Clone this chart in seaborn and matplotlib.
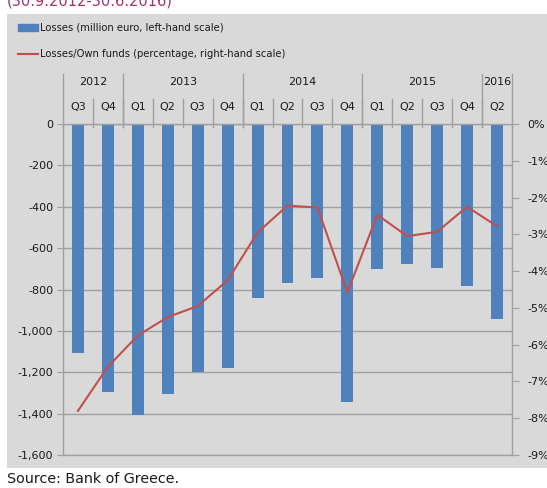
import numpy as np
import pandas as pd
import matplotlib
matplotlib.use("Agg")
import matplotlib.pyplot as plt
import matplotlib.patches as mpatches
import matplotlib.lines as mlines
from matplotlib.ticker import FuncFormatter
import seaborn as sns

# data
years = ["2012", "2012", "2013", "2013", "2013", "2013", "2014", "2014", "2014", "2014",
         "2015", "2015", "2015", "2015", "2016"]
quarters = ["Q3", "Q4", "Q1", "Q2", "Q3", "Q4", "Q1", "Q2", "Q3", "Q4",
            "Q1", "Q2", "Q3", "Q4", "Q2"]
losses = [-1105, -1295, -1405, -1305, -1200, -1180, -840, -770, -745, -1345,
          -700, -675, -695, -785, -945]
ratio = [-7.8, -6.6, -5.75, -5.25, -4.95, -4.25, -2.95, -2.22, -2.27, -4.58,
         -2.47, -3.05, -2.93, -2.25, -2.78]

BLUE = "#4f81bd"
RED = "#c0504d"
PANEL = "#d9d9d9"
GRID = "#a0a0a0"
TXT = "#1a1a1a"

df = pd.DataFrame({"year": years, "quarter": quarters, "losses": losses, "ratio": ratio})
df["pos"] = np.arange(len(df))

plt.rcParams["font.family"] = ["DejaVu Sans"]
fig = plt.figure(figsize=(5.47, 4.88), dpi=100, facecolor="white")

# grey panel behind the chart
fig.patches.append(mpatches.Rectangle((7 / 547, 20 / 488), 1 - 7 / 547, 454 / 488,
                                      transform=fig.transFigure, facecolor=PANEL,
                                      edgecolor="none", zorder=-10))

ax = fig.add_axes([63 / 547, 1 - 455 / 488, (512 - 63) / 547, (455 - 124) / 488])
ax.set_facecolor("none")
sns.barplot(data=df, x="pos", y="losses", native_scale=True, width=0.4, color=BLUE,
            saturation=1, ax=ax, zorder=2)
ax.set_xlim(-0.5, len(df) - 0.5)
ax.set_ylim(-1600, 0)
ax.set_yticks(np.arange(-1600, 1, 200))
ax.yaxis.set_major_formatter(FuncFormatter(lambda v, p: f"{int(v):,}"))
ax.yaxis.grid(True, color=GRID, linewidth=1)
ax.set_axisbelow(True)
ax.set_xlabel("")
ax.set_ylabel("")
ax.set_xticks([])
ax.tick_params(axis="y", length=4, color=GRID, labelsize=8, labelcolor=TXT, pad=3)
for s in ["left", "right", "top", "bottom"]:
    ax.spines[s].set_color(GRID)
    ax.spines[s].set_linewidth(1)

ax2 = ax.twinx()
sns.lineplot(data=df, x="pos", y="ratio", color=RED, linewidth=1.5, ax=ax2)
ax2.set_ylim(-9, 0)
ax2.set_yticks(np.arange(-9, 1, 1))
ax2.yaxis.set_major_formatter(FuncFormatter(lambda v, p: f"{int(round(v))}%"))
ax2.set_ylabel("")
ax2.set_xlabel("")
ax2.tick_params(axis="y", length=5, color=GRID, labelsize=8, labelcolor=TXT, pad=6)
for s in ["left", "right", "top", "bottom"]:
    ax2.spines[s].set_visible(False)

# category header above the plot
trans = ax.get_xaxis_transform()
q_y, yr_y = 1.051, 1.127
for i, q in enumerate(df["quarter"]):
    ax.text(i, q_y, q, transform=trans, ha="center", va="center", fontsize=8, color=TXT)
for i in range(1, len(df)):
    ax.plot([i - 0.5, i - 0.5], [0.991, 1.076], transform=trans, color=GRID,
            linewidth=1, clip_on=False)
year_list = list(dict.fromkeys(years))
bounds = [-0.5]
for yr in year_list:
    idx = [i for i, y in enumerate(years) if y == yr]
    ax.text((idx[0] + idx[-1]) / 2, yr_y, yr, transform=trans, ha="center", va="center",
            fontsize=8, color=TXT)
    bounds.append(idx[-1] + 0.5)
for b in bounds:
    ax.plot([b, b], [0.991, 1.151], transform=trans, color=GRID, linewidth=1, clip_on=False)

# legend
h_bar = mpatches.Patch(color=BLUE, label="Losses (million euro, left-hand scale)")
h_line = mlines.Line2D([], [], color=RED, linewidth=1.5,
                       label="Losses/Own funds (percentage, right-hand scale)")
fig.legend(handles=[h_bar, h_line], loc="upper left",
           bbox_to_anchor=(18 / 547, 1 - 23 / 488), frameon=False, fontsize=7.2,
           handlelength=2.0, handleheight=0.7, handletextpad=0.15, labelspacing=1.6,
           borderpad=0, borderaxespad=0, labelcolor=TXT)

fig.text(7 / 547, 1 - 5 / 488, "(30.9.2012-30.6.2016)", fontsize=10.5, color="#a0306e",
         ha="left", va="baseline")
fig.text(7 / 547, 1 - 479 / 488, "Source: Bank of Greece.", fontsize=10.3, color=TXT,
         ha="left", va="center")

fig.savefig("out.png", dpi=100, facecolor="white")
